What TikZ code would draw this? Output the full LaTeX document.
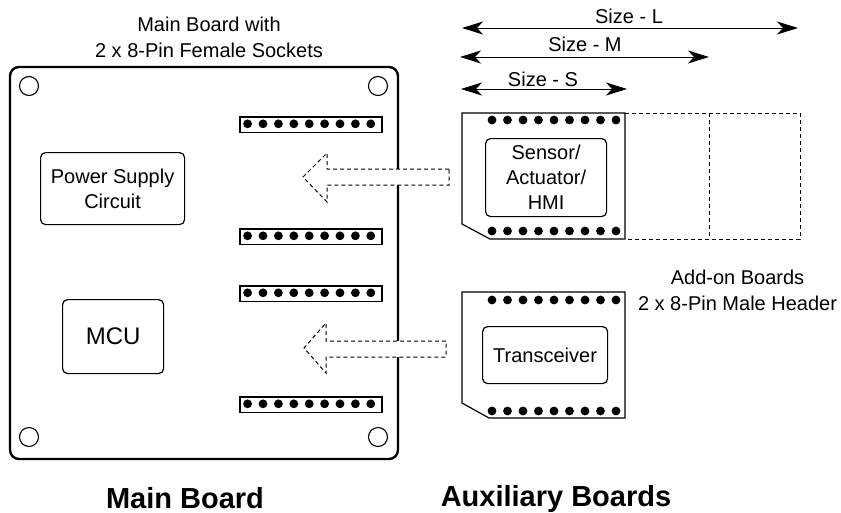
\documentclass[tikz,border=0pt]{standalone}
\usepackage{fontspec}
\setmainfont{Liberation Sans}
\usetikzlibrary{positioning, arrows.meta}
\tikzset{
	txt/.style={font=\fontsize{20}{25}\selectfont, align=center, inner sep=0pt},
	title/.style={font=\fontsize{29}{34}\selectfont\bfseries, inner sep=0pt, anchor=base},
	unit/.style={draw, rounded corners=5pt, line width=1.2pt, txt, anchor=north west},
	hole/.style={draw, circle, line width=1.1pt, minimum size=19pt, inner sep=0pt},
	pin/.style={fill, circle, minimum size=8.8pt, inner sep=0pt},
	socket/.style={draw, line width=1.6pt, minimum width=142pt, minimum height=15.5pt, inner sep=0pt, anchor=north west},
	pcb/.style={draw, line width=1.2pt, line join=miter},
	ghost/.style={draw, dash pattern=on 4pt off 3pt, line width=0.9pt},
	plug/.style={draw, fill=white, dash pattern=on 4pt off 3pt, line width=1pt},
	size/.style={{Stealth[length=21pt,width=13pt,inset=6pt]}-{Stealth[length=21pt,width=13pt,inset=6pt]}, line width=1pt}
}
\begin{document}
\begin{tikzpicture}[x=1pt, y=-1pt]
	\useasboundingbox (0,0) rectangle (841,512);

	% main board
	\draw[line width=2.4pt, rounded corners=9pt] (10,67) rectangle (398,459);
	\node[hole] (h1) at (29,86) {};
	\node[hole] (h2) at (378,86) {};
	\node[hole] (h3) at (29,437) {};
	\node[hole] (h4) at (378,437) {};
	\node[unit, minimum width=144pt, minimum height=72pt] (power) at (40,152) {Power Supply\\Circuit};
	\node[unit, minimum width=101pt, minimum height=74pt, font=\fontsize{24}{28}\selectfont] (mcu) at (62,299) {MCU};

	% sockets
	\foreach \s/\y in {a/116, b/228, c/285, d/396} {
		\node[socket] (socket-\s) at (239,\y) {};
		\foreach \i in {0,...,8}
			\node[pin] (pin-\s-\i) at (247.6+15.4*\i,\y+7.8) {};
	}

	% plug-in arrows
	\draw[plug] (449,169) -- (327,169) -- (327,153) -- (303,177) -- (327,202) -- (327,185) -- (449,185) -- cycle;
	\draw[plug] (446,341) -- (326,341) -- (326,323) -- (304,348) -- (326,373) -- (326,357) -- (446,357) -- cycle;

	% add-on boards
	\draw[ghost] (625,113) -- (800,113) -- (800,239) -- (625,239);
	\draw[ghost] (709,113) -- (709,239);
	\draw[pcb] (462,113) -- (625,113) -- (625,239) -- (490,239) -- (462,224) -- cycle;
	\draw[pcb] (462,292) -- (625,292) -- (625,418) -- (489,418) -- (462,403) -- cycle;
	\foreach \s/\y in {e/120, f/231, g/300, h/411}
		\foreach \i in {0,...,8}
			\node[pin] (pin-\s-\i) at (492+15.5*\i,\y) {};
	\node[unit, minimum width=121pt, minimum height=78pt] (sensor) at (485,138) {Sensor/\\Actuator/\\HMI};
	\node[unit, minimum width=125pt, minimum height=57pt] (trx) at (482,326) {Transceiver};

	% sizes
	\coordinate (l-a) at (462,28);
	\coordinate (l-b) at (798,28);
	\coordinate (m-a) at (460,57);
	\coordinate (m-b) at (709,57);
	\coordinate (s-a) at (461,89);
	\coordinate (s-b) at (627,89);
	\draw[size] (l-a) -- (l-b);
	\draw[size] (m-a) -- (m-b);
	\draw[size] (s-a) -- (s-b);
	\node[txt, above=4pt of l-a, xshift=167pt, anchor=south] (size-l) {Size - L};
	\node[txt, above=5pt of m-a, xshift=125pt, anchor=south] (size-m) {Size - M};
	\node[txt, above=2pt of s-a, xshift=82pt, anchor=south] (size-s) {Size - S};

	% labels
	\node[txt] (main-label) at (209,37) {Main Board with\\[1pt]2 x 8-Pin Female Sockets};
	\node[txt] (addon-label) at (737.5,290.5) {Add-on Boards\\[1pt]2 x 8-Pin Male Header};
	\node[title] (main-title) at (185,508) {Main Board};
	\node[title] (aux-title) at (556,506) {Auxiliary Boards};
\end{tikzpicture}
\end{document}
